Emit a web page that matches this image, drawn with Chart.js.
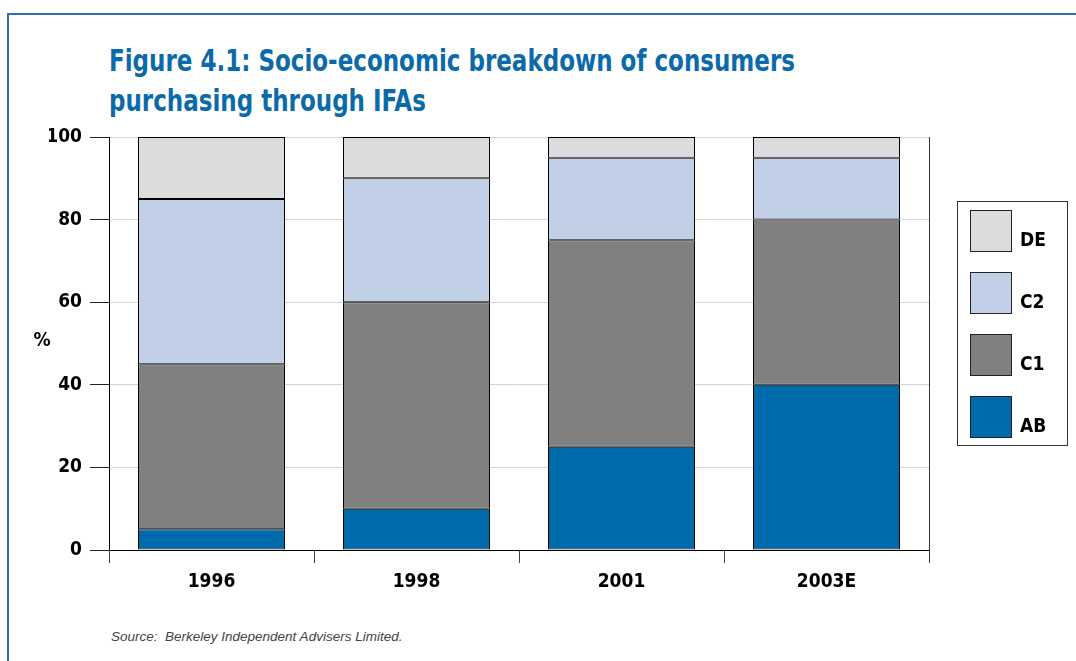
<!DOCTYPE html>
<html>
<head>
<meta charset="utf-8">
<script src="https://cdn.jsdelivr.net/npm/chart.js@4.4.1/dist/chart.umd.min.js"></script>
<style>
  html, body { margin: 0; padding: 0; background: #fff; }
  #wrap { position: relative; width: 1076px; height: 661px; overflow: hidden; }
  #frame { position: absolute; left: 7px; top: 13px; width: 1200px; height: 800px;
           border-top: 2px solid #2f6fae; border-left: 2px solid #2f6fae; }
  #title { position: absolute; left: 109px; top: 40px; margin: 0; white-space: nowrap;
           font-family: 'DejaVu Sans Condensed', sans-serif;
           font-weight: bold; font-size: 31px; line-height: 40px; color: #0a6aaa;
           transform-origin: 0 0; }
  #title span { display: inline-block; }
  #source { position: absolute; left: 111px; top: 629px; line-height: 16px;
            font-family: 'Liberation Sans', sans-serif; font-style: italic;
            font-size: 13.5px; color: #444; white-space: pre; }
  canvas { position: absolute; left: 0; top: 0; }
</style>
</head>
<body>
<div id="wrap">
  <div id="frame"></div>
  <div id="title"><span id="t1">Figure 4.1: Socio-economic breakdown of consumers</span><br><span>purchasing through IFAs</span></div>
  <div id="source">Source:  Berkeley Independent Advisers Limited.</div>
  <canvas id="c" width="1076" height="661"></canvas>
</div>
<script>
const categories = ['1996', '1998', '2001', '2003E'];
const seriesAB = [5, 10, 25, 40];
const seriesC1 = [40, 50, 50, 40];
const seriesC2 = [40, 30, 20, 15];
const seriesDE = [15, 10, 5, 5];
const yTicks = [0, 20, 40, 60, 80, 100];
const yAxisLabel = '%';

// fit the title's first line to the reference width
(function () {
  const w = document.getElementById('t1').getBoundingClientRect().width;
  document.getElementById('title').style.transform = 'scaleX(' + (686 / w) + ')';
})();

const FONT = "'DejaVu Sans Condensed', sans-serif";

const extras = {
  id: 'extras',
  afterDraw(chart) {
    const ctx = chart.ctx;
    const a = chart.chartArea;
    ctx.save();
    ctx.strokeStyle = '#333';
    ctx.lineWidth = 1;
    ctx.beginPath();
    ctx.moveTo(Math.round(a.right) + 0.5, a.top);
    ctx.lineTo(Math.round(a.right) + 0.5, a.bottom + 13);
    ctx.stroke();
    ctx.fillStyle = '#000';
    ctx.font = 'bold 19px ' + FONT;
    ctx.textAlign = 'center';
    ctx.textBaseline = 'middle';
    ctx.fillText(yAxisLabel, 42, 341);
    const lx = 957.5, ly = 201.5, lw = 110, lh = 244;
    ctx.strokeStyle = '#333';
    ctx.strokeRect(lx, ly, lw, lh);
    const ds = chart.data.datasets.slice().reverse();
    ds.forEach((d, i) => {
      const sy = 210.5 + i * 62;
      ctx.fillStyle = d.backgroundColor;
      ctx.fillRect(970.5, sy, 41, 41);
      ctx.strokeStyle = '#222';
      ctx.strokeRect(970.5, sy, 41, 41);
      ctx.fillStyle = '#000';
      ctx.textAlign = 'left';
      ctx.textBaseline = 'middle';
      ctx.fillText(d.label, 1020, sy + 31);
    });
    ctx.restore();
  }
};

const mk = (label, data, color) => ({
  label, data, backgroundColor: color, borderColor: '#000', borderWidth: 1,
  borderSkipped: false, categoryPercentage: 1, barPercentage: 0.717
});

new Chart(document.getElementById('c'), {
  type: 'bar',
  data: {
    labels: categories,
    datasets: [
      mk('AB', seriesAB, '#006bac'),
      mk('C1', seriesC1, '#808080'),
      mk('C2', seriesC2, '#c2d0e7'),
      mk('DE', seriesDE, '#dcdcde')
    ]
  },
  options: {
    responsive: false,
    animation: false,
    layout: { padding: { left: 49, top: 137, right: 147, bottom: 61 } },
    plugins: { legend: { display: false }, title: { display: false }, tooltip: { enabled: false } },
    scales: {
      x: {
        stacked: true,
        afterFit(s) { s.height = 50; },
        grid: { display: true, offset: true, drawOnChartArea: false, drawTicks: true,
                tickLength: 13, tickColor: '#444', color: '#444' },
        border: { display: true, color: '#000', width: 1 },
        ticks: { color: '#000', padding: 8, font: { family: FONT, size: 19, weight: 'bold' } }
      },
      y: {
        stacked: true,
        min: 0, max: 100,
        afterFit(s) { s.width = 60; },
        afterBuildTicks(s) { s.ticks = yTicks.map(v => ({ value: v })); },
        grid: { color: '#d4d4d4', tickColor: '#222', tickLength: 19, drawTicks: true },
        border: { display: true, color: '#000', width: 1 },
        ticks: { color: '#000', padding: 8, font: { family: FONT, size: 19, weight: 'bold' } }
      }
    }
  },
  plugins: [extras]
});
</script>
</body>
</html>
